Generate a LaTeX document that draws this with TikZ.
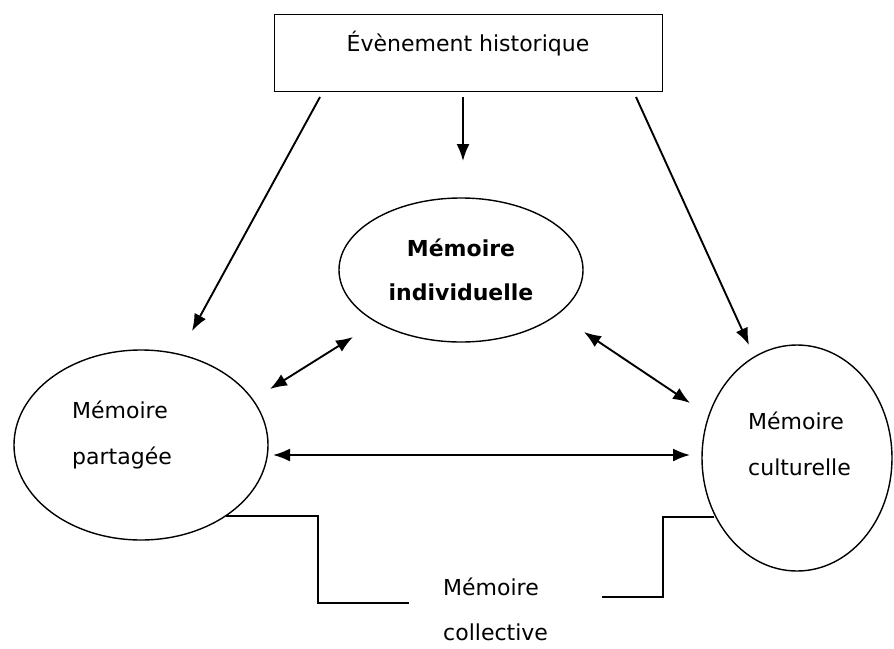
\documentclass[tikz,border=0pt]{standalone}
\usepackage{fontspec}
\setmainfont{DejaVu Sans}
\usetikzlibrary{shapes.geometric,arrows.meta}
\begin{document}
\begin{tikzpicture}[x=1pt,y=-1pt,>={Latex[length=17pt,width=13pt]},
    txt/.style={font=\fontsize{22}{46}\selectfont,inner sep=0pt},
    mem/.style={draw,ellipse,line width=1.4pt,inner sep=0pt},
    link/.style={line width=1.9pt}]
    \useasboundingbox (0,0) rectangle (894,648);

    % event box
    \node[draw,line width=1pt,minimum width=388pt,minimum height=77pt] (evt) at (468,52.5) {};
    \node[txt] (evttext) at (468,44) {Évènement historique};

    % the three memories
    \node[mem,minimum width=244pt,minimum height=144pt] (indiv) at (461,270) {};
    \node[mem,minimum width=254pt,minimum height=190pt] (part) at (141,445) {};
    \node[mem,minimum width=190pt,minimum height=226pt] (cult) at (797,458) {};

    \node[txt,align=center,font=\fontsize{22}{44}\selectfont\bfseries] (indivtext) at (461,270) {Mémoire\\individuelle};
    \node[txt,align=left,anchor=west] (parttext) at (72,435) {Mémoire\\partagée};
    \node[txt,align=left,anchor=west] (culttext) at (748,444) {Mémoire\\culturelle};
    \node[txt,align=left,anchor=west,font=\fontsize{22}{45}\selectfont] (colltext) at (443,609) {Mémoire\\collective};

    % arrow ends
    \coordinate (a1) at (320,97);   \coordinate (b1) at (192,331);
    \coordinate (a2) at (463,97);   \coordinate (b2) at (463,161);
    \coordinate (a3) at (636,97);   \coordinate (b3) at (749,345);
    \coordinate (a4) at (270,389);  \coordinate (b4) at (353,337);
    \coordinate (a5) at (584,332);  \coordinate (b5) at (690,403);
    \coordinate (a6) at (273,455);  \coordinate (b6) at (690,455);

    \draw[link,->] (a1) -- (b1);
    \draw[link,->] (a2) -- (b2);
    \draw[link,->] (a3) -- (b3);
    \draw[link,<->] (a4) -- (b4);
    \draw[link,<->] (a5) -- (b5);
    \draw[link,<->] (a6) -- (b6);

    % collective brackets
    \draw[line width=1.2pt] (226,516) -- (318,516) -- (318,603) -- (409,603);
    \draw[line width=1.2pt] (602,597) -- (663,597) -- (663,517) -- (714,517);
\end{tikzpicture}
\end{document}
